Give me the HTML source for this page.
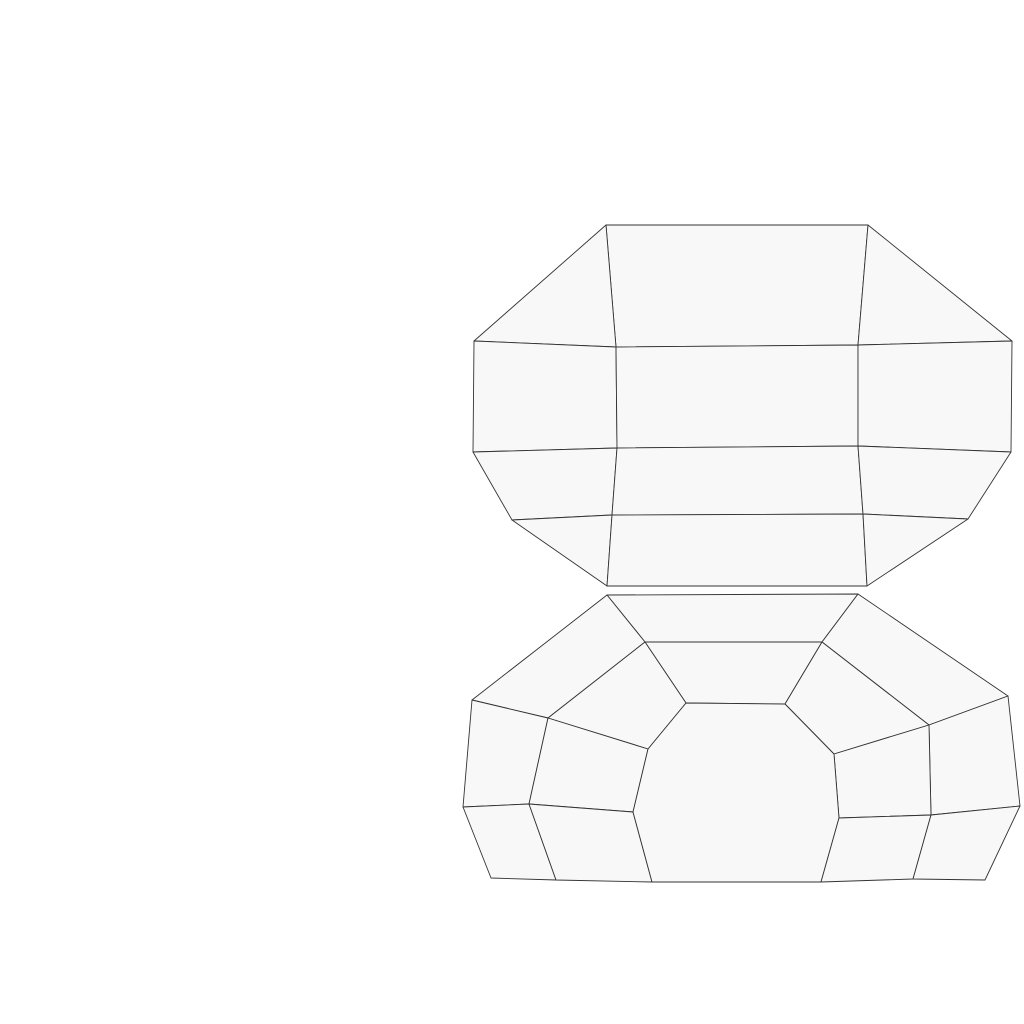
<!DOCTYPE html>
<html><head><meta charset="utf-8"><style>html,body{margin:0;padding:0;background:#fff}svg{display:block}</style></head>
<body>
<svg id="chart" width="1024" height="1024" viewBox="0 0 1024 1024" xmlns="http://www.w3.org/2000/svg"></svg>
<script>
const verts = [
 [606,225],[868,225],[474,341],[616,347],[858,345],[1012,341],
 [473,452],[617,448],[858,446],[1011,452],[512,520],[612,515],[863,514],[968,519],
 [607,586],[867,586],
 [607,595],[858,594],[645,642],[822,642],[472,700],[548,718],[686,703],[785,704],
 [1008,696],[929,725],[648,749],[834,754],[463,807],[529,804],[633,812],[839,818],
 [931,815],[1020,806],[491,878],[556,880],[652,882],[821,882],[913,879],[985,880]
];
const faces = [
 [0,1,4,3],[0,3,2],[1,5,4],
 [2,3,7,6],[3,4,8,7],[4,5,9,8],
 [6,7,11,10],[7,8,12,11],[8,9,13,12],
 [10,11,14],[11,12,15,14],[12,13,15],
 [16,17,19,18],[16,18,21,20],[17,24,25,19],
 [18,19,23,22],[18,22,26,21],[19,25,27,23],
 [20,21,29,28],[21,26,30,29],[24,33,32,25],[25,32,31,27],
 [28,29,35,34],[29,30,36,35],[22,23,27,31,37,36,30,26],
 [31,32,38,37],[32,33,39,38]
];
const svg = document.getElementById('chart');
const NS = 'http://www.w3.org/2000/svg';
faces.forEach((f, i) => {
  const p = document.createElementNS(NS, 'polygon');
  p.setAttribute('points', f.map(k => verts[k].join(',')).join(' '));
  p.setAttribute('fill', '#f8f8f8');
  p.setAttribute('stroke', '#333');
  p.setAttribute('stroke-width', '0.9');
  p.setAttribute('stroke-linejoin', 'round');
  
  
  svg.appendChild(p);
});
</script>
</body></html>
